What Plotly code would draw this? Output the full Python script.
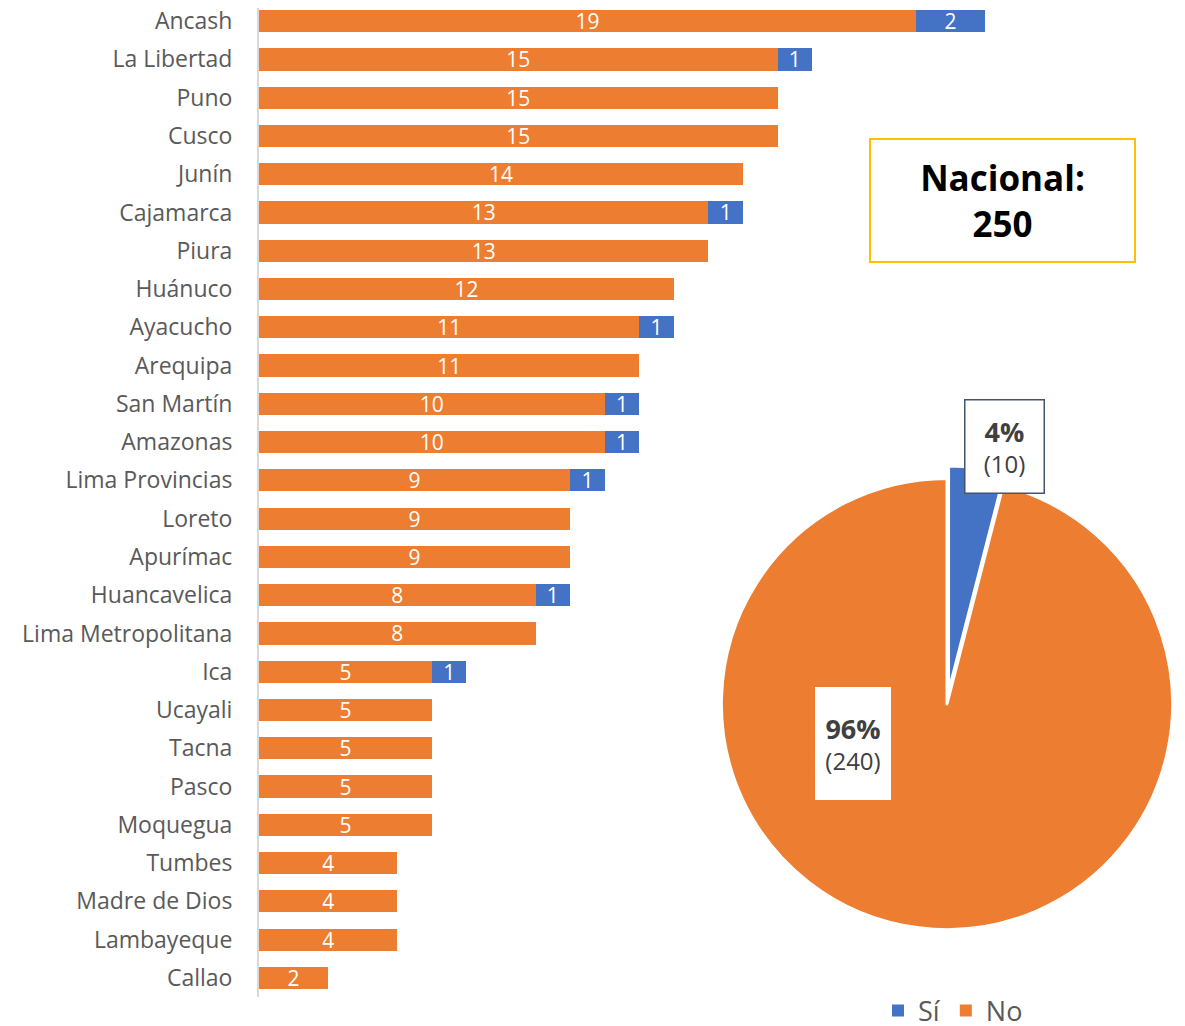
import plotly.graph_objects as go

# datos por región
regiones = ["Ancash", "La Libertad", "Puno", "Cusco", "Junín", "Cajamarca", "Piura",
            "Huánuco", "Ayacucho", "Arequipa", "San Martín", "Amazonas", "Lima Provincias",
            "Loreto", "Apurímac", "Huancavelica", "Lima Metropolitana", "Ica", "Ucayali",
            "Tacna", "Pasco", "Moquegua", "Tumbes", "Madre de Dios", "Lambayeque", "Callao"]
no_vals = [19, 15, 15, 15, 14, 13, 13, 12, 11, 11, 10, 10, 9, 9, 9, 8, 8, 5, 5, 5, 5, 5, 4, 4, 4, 2]
si_vals = [2, 1, 0, 0, 0, 1, 0, 0, 1, 0, 1, 1, 1, 0, 0, 1, 0, 1, 0, 0, 0, 0, 0, 0, 0, 0]

pie_labels = ["Sí", "No"]
pie_vals = [sum(si_vals), sum(no_vals)]
total = sum(pie_vals)

ORANGE = "#ED7D31"
BLUE = "#4472C4"
GREY = "#595959"
FONT = "Open Sans"

# geometry (page pixels; the figure sits 8px in from the page corner)
OFF = 8
W, H = 1185 - OFF, 1026 - OFF
ML, MR, MT, MB = 259 - OFF, 0, 0, 1026 - 997
PW, PH = W - ML - MR, H - MT - MB
UNIT = (985 - 259) / 21          # px per unit on the bar axis
ROW = (978 - 21) / 25            # px per category row


def px(x):
    return (x - OFF - ML) / PW


def py(y):
    return 1 - (y - OFF - MT) / PH


fig = go.Figure()

fig.add_trace(go.Bar(
    y=regiones, x=no_vals, orientation="h", name="No",
    marker=dict(color=ORANGE, line=dict(width=0)),
    text=[str(v) for v in no_vals], textposition="inside", insidetextanchor="middle",
    textangle=0, textfont=dict(color="white", size=21, family=FONT), constraintext="none",
    hoverinfo="x+y",
))
fig.add_trace(go.Bar(
    y=regiones, x=si_vals, orientation="h", name="Sí",
    marker=dict(color=BLUE, line=dict(width=0)),
    text=[str(v) if v else "" for v in si_vals], textposition="inside", insidetextanchor="middle",
    textangle=0, textfont=dict(color="white", size=21, family=FONT), constraintext="none",
    hoverinfo="x+y",
))

# pie nacional
fig.add_trace(go.Pie(
    labels=pie_labels, values=pie_vals, sort=False, direction="clockwise", rotation=0,
    pull=[0.055, 0], marker=dict(colors=[BLUE, ORANGE], line=dict(color="white", width=3)),
    textinfo="none", showlegend=False,
    domain=dict(x=[px(947 - 238), 1], y=[py(704 + 238), py(704 - 238)]),
))

# etiquetas del pie
pct = [round(100 * v / total) for v in pie_vals]
fig.add_annotation(
    x=px(1004.5), y=py(446), xref="paper", yref="paper", xanchor="center", yanchor="middle",
    showarrow=False,
    text=f"<b><span style='font-size:27px'>{pct[0]}%</span></b><br>({pie_vals[0]})",
    font=dict(size=24, color="#404040", family=FONT), align="center",
    bgcolor="white", bordercolor="#44546A", borderwidth=1.5, width=76, height=90,
)
fig.add_annotation(
    x=px(853), y=py(743.5), xref="paper", yref="paper", xanchor="center", yanchor="middle",
    showarrow=False,
    text=f"<b><span style='font-size:27px'>{pct[1]}%</span></b><br>({pie_vals[1]})",
    font=dict(size=24, color="#404040", family=FONT), align="center",
    bgcolor="white", borderwidth=0, width=74, height=111,
)

# caja nacional
fig.add_annotation(
    x=px(1002.5), y=py(200.5), xref="paper", yref="paper", xanchor="center", yanchor="middle",
    showarrow=False,
    text=f"<b>Nacional:<br>{total}</b>",
    font=dict(size=35, color="black", family=FONT), align="center",
    bgcolor="white", bordercolor="#FFC000", borderwidth=2, width=261, height=119,
)

fig.update_layout(
    width=W, height=H,
    margin=dict(l=ML, r=MR, t=MT, b=MB, autoexpand=False),
    barmode="stack", bargap=0.42,
    plot_bgcolor="white", paper_bgcolor="white",
    font=dict(family=FONT, color=GREY),
    xaxis=dict(range=[0, PW / UNIT], visible=False),
    yaxis=dict(range=[25.5, -0.5 + (OFF - 2) / ROW], showline=True, linecolor="#D9D9D9",
               linewidth=2, ticks="", showgrid=False, tickfont=dict(size=23, color=GREY),
               ticklabelstandoff=20),
    legend=dict(orientation="h", traceorder="reversed", x=px(878), y=py(1011),
                xanchor="left", yanchor="middle",
                font=dict(size=27, color=GREY), bgcolor="rgba(0,0,0,0)"),
    showlegend=True,
)

fig.write_html("out.html")
